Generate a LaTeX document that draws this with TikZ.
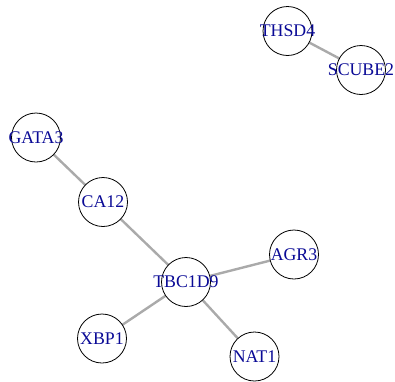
\documentclass[tikz,border=0pt]{standalone}
\usepackage{fontspec}
\setmainfont{Liberation Serif}
\definecolor{labelblue}{RGB}{10,10,150}
\definecolor{edgegray}{RGB}{170,170,170}
\begin{document}
\begin{tikzpicture}[x=1pt,y=-1pt,
  gene/.style={circle,draw=black,line width=0.8pt,fill=white,minimum size=49pt,inner sep=0pt,
    label={[text=labelblue,font=\fontsize{17.8}{19}\selectfont,inner sep=0pt]center:#1}},
  link/.style={draw=edgegray,line width=2.4pt}]
\useasboundingbox (0,0) rectangle (395,381);
\coordinate (cTHSD4) at (287.5,31);
\coordinate (cSCUBE2) at (361,70);
\coordinate (cGATA3) at (36,137.5);
\coordinate (cCA12) at (103,202);
\coordinate (cTBC1D9) at (186,282);
\coordinate (cAGR3) at (294,254.5);
\coordinate (cXBP1) at (102,338.5);
\coordinate (cNAT1) at (254.5,356.5);
\draw[link] (cTHSD4) -- (cSCUBE2);
\draw[link] (cGATA3) -- (cCA12);
\draw[link] (cCA12) -- (cTBC1D9);
\draw[link] (cTBC1D9) -- (cAGR3);
\draw[link] (cTBC1D9) -- (cXBP1);
\draw[link] (cTBC1D9) -- (cNAT1);
\node[gene=THSD4] (THSD4) at (cTHSD4) {};
\node[gene=SCUBE2] (SCUBE2) at (cSCUBE2) {};
\node[gene=GATA3] (GATA3) at (cGATA3) {};
\node[gene=CA12] (CA12) at (cCA12) {};
\node[gene=TBC1D9] (TBC1D9) at (cTBC1D9) {};
\node[gene=AGR3] (AGR3) at (cAGR3) {};
\node[gene=XBP1] (XBP1) at (cXBP1) {};
\node[gene=NAT1] (NAT1) at (cNAT1) {};
\end{tikzpicture}
\end{document}
